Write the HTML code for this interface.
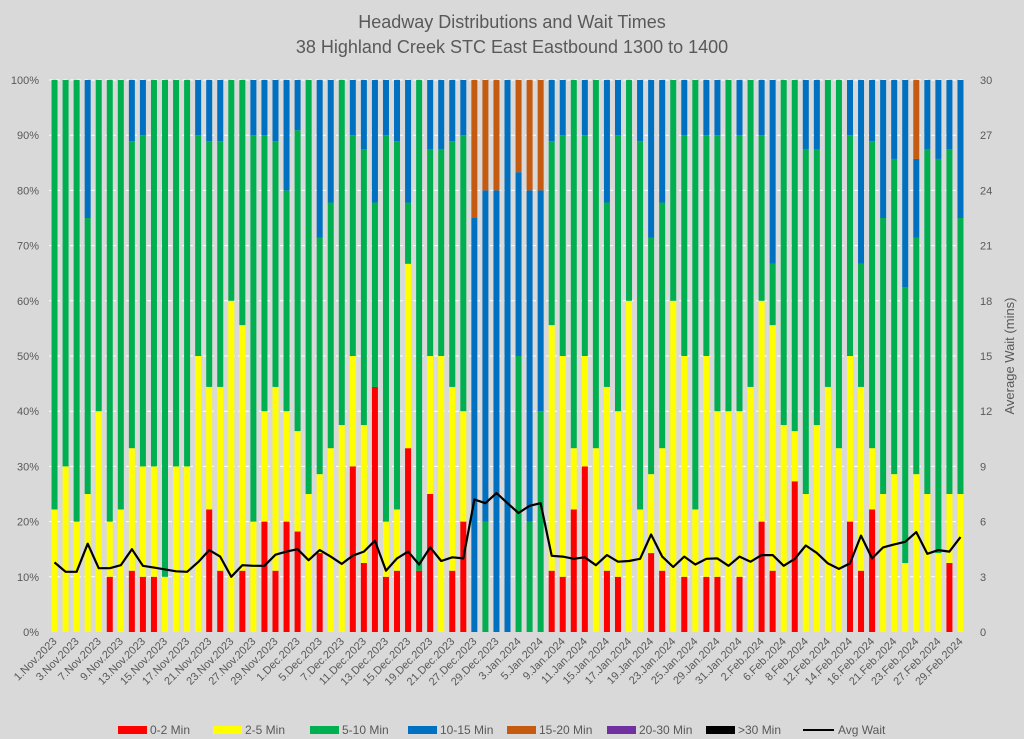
<!DOCTYPE html>
<html><head><meta charset="utf-8"><style>
html,body{margin:0;padding:0;background:#d9d9d9;}
svg{display:block;font-family:"Liberation Sans",sans-serif;}
</style></head><body>
<svg id="chart" width="1024" height="739" viewBox="0 0 1024 739" xmlns="http://www.w3.org/2000/svg">
<rect x="0" y="0" width="1024" height="739" fill="#d9d9d9"/>
<text x="512" y="28" text-anchor="middle" font-size="18" fill="#595959">Headway Distributions and Wait Times</text>
<text x="512" y="53" text-anchor="middle" font-size="18" fill="#595959">38 Highland Creek  STC East Eastbound 1300 to 1400</text>
<g id="grid"></g>
<g id="bars"></g>
<g id="line"></g>
<g id="axes"></g>
<text transform="translate(1014,356) rotate(-90)" text-anchor="middle" font-size="13" fill="#595959">Average Wait (mins)</text>
<g id="legend"></g>
</svg>
<script>
const dates = ["1.Nov.2023","2.Nov.2023","3.Nov.2023","6.Nov.2023","7.Nov.2023","8.Nov.2023","9.Nov.2023","10.Nov.2023","13.Nov.2023","14.Nov.2023","15.Nov.2023","16.Nov.2023","17.Nov.2023","20.Nov.2023","21.Nov.2023","22.Nov.2023","23.Nov.2023","24.Nov.2023","27.Nov.2023","28.Nov.2023","29.Nov.2023","30.Nov.2023",
"1.Dec.2023","4.Dec.2023","5.Dec.2023","6.Dec.2023","7.Dec.2023","8.Dec.2023","11.Dec.2023","12.Dec.2023","13.Dec.2023","14.Dec.2023","15.Dec.2023","18.Dec.2023","19.Dec.2023","20.Dec.2023","21.Dec.2023","22.Dec.2023","27.Dec.2023","28.Dec.2023","29.Dec.2023",
"2.Jan.2024","3.Jan.2024","4.Jan.2024","5.Jan.2024","8.Jan.2024","9.Jan.2024","10.Jan.2024","11.Jan.2024","12.Jan.2024","15.Jan.2024","16.Jan.2024","17.Jan.2024","18.Jan.2024","19.Jan.2024","22.Jan.2024","23.Jan.2024","24.Jan.2024","25.Jan.2024","26.Jan.2024","29.Jan.2024","30.Jan.2024","31.Jan.2024",
"1.Feb.2024","2.Feb.2024","5.Feb.2024","6.Feb.2024","7.Feb.2024","8.Feb.2024","9.Feb.2024","12.Feb.2024","13.Feb.2024","14.Feb.2024","15.Feb.2024","16.Feb.2024","20.Feb.2024","21.Feb.2024","22.Feb.2024","23.Feb.2024","26.Feb.2024","27.Feb.2024","28.Feb.2024","29.Feb.2024"];
const min0to2 = [0,0,0,0,0,10,0,11.1,10,10,0,0,0,0,22.2,11.1,0,11.1,0,20,11.1,20,18.2,0,14.3,0,0,30,12.5,44.4,10,11.1,33.3,11.1,25,0,11.1,20,0,0,0,0,0,0,0,11.1,10,22.2,30,0,11.1,10,0,0,14.3,11.1,0,10,0,10,10,0,10,0,20,11.1,0,27.3,0,0,0,0,20,11.1,22.2,0,0,0,0,0,0,12.5,0];
const min2to5 = [22.2,30,20,25,40,10,22.2,22.2,20,20,10,30,30,50,22.2,33.3,60,44.5,20,20,33.3,20,18.2,25,14.3,33.3,37.5,20,25,0,10,11.1,33.4,0,25,50,33.3,20,0,0,0,0,0,0,0,44.5,40,11.1,20,33.3,33.3,30,60,22.2,14.3,22.2,60,40,22.2,40,30,40,30,44.4,40,44.5,37.5,9.1,25,37.5,44.4,33.3,30,33.3,11.1,25,28.6,12.5,28.6,25,14.3,12.5,25];
const min5to10 = [77.8,70,80,50,60,80,77.8,55.6,60,70,90,70,70,40,44.5,44.5,40,44.4,70,50,44.5,40,54.5,75,42.8,44.5,62.5,40,50,33.4,70,66.7,11.1,88.9,37.5,37.5,44.5,50,0,20,0,0,50,20,40,33.3,40,66.7,40,66.7,33.4,50,40,66.7,42.8,44.5,40,40,77.8,40,50,60,50,55.6,30,11.1,62.5,63.6,62.5,50,55.6,66.7,40,22.3,55.6,50,57.1,50,42.8,62.5,71.4,62.5,50];
const min10to15 = [0,0,0,25,0,0,0,11.1,10,0,0,0,0,10,11.1,11.1,0,0,10,10,11.1,20,9.1,0,28.6,22.2,0,10,12.5,22.2,10,11.1,22.2,0,12.5,12.5,11.1,10,75,60,80,100,33.3,60,40,11.1,10,0,10,0,22.2,10,0,11.1,28.6,22.2,0,10,0,10,10,0,10,0,10,33.3,0,0,12.5,12.5,0,0,10,33.3,11.1,25,14.3,37.5,14.3,12.5,14.3,12.5,25];
const min15to20 = [0,0,0,0,0,0,0,0,0,0,0,0,0,0,0,0,0,0,0,0,0,0,0,0,0,0,0,0,0,0,0,0,0,0,0,0,0,0,25,20,20,0,16.7,20,20,0,0,0,0,0,0,0,0,0,0,0,0,0,0,0,0,0,0,0,0,0,0,0,0,0,0,0,0,0,0,0,0,0,14.3,0,0,0,0];
const avgWait = [3.78,3.27,3.27,4.8,3.47,3.47,3.63,4.5,3.6,3.5,3.4,3.3,3.27,3.8,4.45,4.1,3.0,3.63,3.6,3.6,4.2,4.37,4.5,3.9,4.45,4.1,3.7,4.15,4.37,4.96,3.33,4.0,4.37,3.67,4.6,3.86,4.06,4.0,7.2,7.0,7.55,7.0,6.47,6.86,7.0,4.14,4.1,3.98,4.06,3.63,4.18,3.82,3.86,3.98,5.3,4.1,3.53,4.1,3.67,3.98,4.0,3.6,4.1,3.82,4.18,4.18,3.6,3.98,4.7,4.3,3.73,3.43,3.73,5.24,4.0,4.6,4.76,4.9,5.43,4.25,4.45,4.37,5.16];
const leftTicks = ["0%","10%","20%","30%","40%","50%","60%","70%","80%","90%","100%"];
const rightTicks = ["0","3","6","9","12","15","18","21","24","27","30"];
const seriesNames = ["0-2 Min","2-5 Min","5-10 Min","10-15 Min","15-20 Min","20-30 Min",">30 Min"];
const seriesColors = ["#ff0000","#ffff00","#00b050","#0070c0","#c55a11","#7030a0","#000000"];

const NS="http://www.w3.org/2000/svg";
const L=49,R=966,T=80,B=632;
const band=(R-L)/dates.length;
const xc=i=>L+(i+0.5)*band;
const yP=v=>B-(v/100)*(B-T);
const yW=v=>B-(v/30)*(B-T);
function mk(tag,attrs,parent){const e=document.createElementNS(NS,tag);for(const k in attrs)e.setAttribute(k,attrs[k]);parent.appendChild(e);return e;}
const grid=document.getElementById('grid'),bars=document.getElementById('bars'),line=document.getElementById('line'),axes=document.getElementById('axes'),legend=document.getElementById('legend');

leftTicks.forEach((t,k)=>{
  const y=yP(k*10);
  if(k>0){const g=mk('line',{x1:L,x2:R,y1:y,y2:y,stroke:'#ffffff','stroke-width':1,'stroke-dasharray':'4,3'},grid);
  
  }
  const tl=mk('text',{x:39,y:y+4,'text-anchor':'end','font-size':11,fill:'#595959'},axes);tl.textContent=t;
  
  
});
rightTicks.forEach((t,k)=>{
  const y=yW(Number(t));
  const tr=mk('text',{x:980,y:y+4,'text-anchor':'start','font-size':11,fill:'#595959'},axes);tr.textContent=t;
  
  
});

const series=[min0to2,min2to5,min5to10,min10to15,min15to20];
const bw=6;
dates.forEach((d,i)=>{
  let acc=0;
  series.forEach((s,si)=>{
    const v=s[i];
    if(v>0){
      const r=mk('rect',{x:xc(i)-bw/2,y:yP(acc+v),width:bw,height:yP(acc)-yP(acc+v),fill:seriesColors[si]},bars);
      
      
    }
    acc+=v;
  });
  if(i%2===0){
    const x=xc(i)+3,y=642;
    const t=mk('text',{x:x,y:y,'text-anchor':'end','font-size':11,fill:'#595959',transform:`rotate(-45 ${x} ${y})`},axes);
    t.textContent=d;
    
    
  }
});
const pts=avgWait.map((v,i)=>xc(i).toFixed(1)+','+yW(v).toFixed(1)).join(' ');
const pl=mk('polyline',{points:pts,fill:'none',stroke:'#000000','stroke-width':2.2,'stroke-linejoin':'round'},line);



const lx=[118,213,310,408,507,607,706];
seriesNames.forEach((n,k)=>{
  const g=mk('g',{},legend);
  
  
  mk('rect',{x:lx[k],y:726,width:29,height:8,fill:seriesColors[k]},g);
  const t=mk('text',{x:lx[k]+32,y:734,'font-size':12,fill:'#595959'},g);t.textContent=n;
});
const g2=mk('g',{},legend);


mk('line',{x1:803,x2:834,y1:730,y2:730,stroke:'#000',"stroke-width":2},g2);
const t2=mk('text',{x:838,y:734,'font-size':12,fill:'#595959'},g2);t2.textContent='Avg Wait';
</script>
</body></html>
